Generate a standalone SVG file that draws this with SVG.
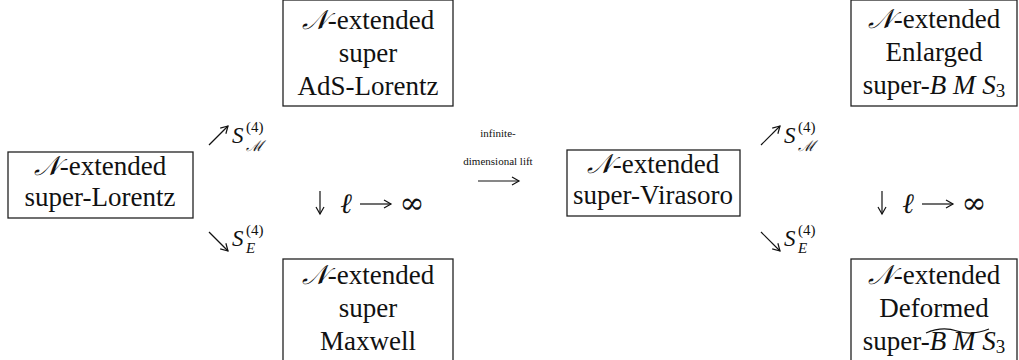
<svg xmlns="http://www.w3.org/2000/svg" width="1019" height="360" viewBox="0 0 1019 360">
<style>
.box{fill:#fff;stroke:#222;stroke-width:1.3}
.t{font-family:"Liberation Serif","Times New Roman",serif;font-size:27px;fill:#111;text-anchor:middle}
.i{font-style:italic}
.s{font-family:"Liberation Serif","Times New Roman",serif;font-size:11px;fill:#111;text-anchor:middle}
.m{font-family:"Liberation Serif","Times New Roman",serif;font-size:23px;fill:#111;font-style:italic}
.sup{font-family:"Liberation Serif","Times New Roman",serif;font-size:15px;fill:#111}
.sub{font-family:"Liberation Serif","Times New Roman",serif;font-size:15px;fill:#111;font-style:italic}
.op{font-family:"DejaVu Serif",serif;font-size:30px;fill:#111;text-anchor:middle}
.ell{font-family:"Liberation Serif","DejaVu Serif",serif;font-size:28px;fill:#111;text-anchor:middle;font-style:italic}
.ln{stroke:#111;stroke-width:1.2;fill:none}
</style>
<defs>
<marker id="ah" markerWidth="10" markerHeight="10" refX="8" refY="5" orient="auto" markerUnits="userSpaceOnUse">
<path d="M1,1 L8,5 L1,9" fill="none" stroke="#111" stroke-width="1.2"/>
</marker>
</defs>
<g id="n-lorentz">
<rect class="box" x="8" y="152" width="185" height="66"/>
<text class="t" x="100" y="175"><tspan class="i">𝒩</tspan>-extended</text>
<text class="t" x="100" y="206">super-Lorentz</text>
</g>
<g id="n-ads">
<rect class="box" x="283" y="0" width="170" height="106"/>
<text class="t" x="368" y="29"><tspan class="i">𝒩</tspan>-extended</text>
<text class="t" x="368" y="62">super</text>
<text class="t" x="368" y="95">AdS-Lorentz</text>
</g>
<g id="n-maxwell">
<rect class="box" x="283" y="259" width="170" height="110"/>
<text class="t" x="368" y="284"><tspan class="i">𝒩</tspan>-extended</text>
<text class="t" x="368" y="317">super</text>
<text class="t" x="368" y="350">Maxwell</text>
</g>
<g id="n-virasoro">
<rect class="box" x="567" y="150" width="173" height="66"/>
<text class="t" x="653" y="173"><tspan class="i">𝒩</tspan>-extended</text>
<text class="t" x="653" y="204">super-Virasoro</text>
</g>
<g id="n-enlarged">
<rect class="box" x="851" y="0" width="166" height="106"/>
<text class="t" x="934" y="28"><tspan class="i">𝒩</tspan>-extended</text>
<text class="t" x="934" y="61">Enlarged</text>
<text class="t" x="934" y="94">super-<tspan class="i">B M S</tspan><tspan style="font-size:19px" dy="3">3</tspan></text>
</g>
<g id="n-deformed">
<rect class="box" x="851" y="259" width="166" height="110"/>
<text class="t" x="934" y="284"><tspan class="i">𝒩</tspan>-extended</text>
<text class="t" x="934" y="317">Deformed</text>
<text class="t" x="934" y="350">super-<tspan class="i">B M S</tspan><tspan style="font-size:19px" dy="3">3</tspan></text>
<path class="ln" d="M926,333 Q942,326 957,331 Q972,336 989,329" stroke-width="1"/>
</g>
<g id="connectors">
<path class="ln" d="M209,145 L228,126" marker-end="url(#ah)"/>
<path class="ln" d="M209,232 L228,251" marker-end="url(#ah)"/>
<path class="ln" d="M761,145 L780,126" marker-end="url(#ah)"/>
<path class="ln" d="M761,232 L780,251" marker-end="url(#ah)"/>
<path class="ln" d="M478,181 L519,181" marker-end="url(#ah)"/>
<path class="ln" d="M320,191 L320,214" marker-end="url(#ah)"/>
<path class="ln" d="M360,204 L391,204" marker-end="url(#ah)"/>
<path class="ln" d="M882,191 L882,214" marker-end="url(#ah)"/>
<path class="ln" d="M922,204 L953,204" marker-end="url(#ah)"/>
</g>
<g id="labels">
<text class="m" x="232" y="143">S</text>
<text class="sup" x="246" y="132">(4)</text>
<text class="sub" x="246" y="151">ℳ</text>
<text class="m" x="232" y="246">S</text>
<text class="sup" x="246" y="235">(4)</text>
<text class="sub" x="246" y="253">E</text>
<text class="m" x="784" y="143">S</text>
<text class="sup" x="798" y="132">(4)</text>
<text class="sub" x="798" y="151">ℳ</text>
<text class="m" x="784" y="246">S</text>
<text class="sup" x="798" y="235">(4)</text>
<text class="sub" x="798" y="253">E</text>
<text class="s" x="498" y="137">infinite-</text>
<text class="s" x="498" y="165">dimensional lift</text>
<text class="ell" x="346" y="213">ℓ</text>
<text class="op" x="412" y="213">∞</text>
<text class="ell" x="908" y="213">ℓ</text>
<text class="op" x="974" y="213">∞</text>
</g>
</svg>
